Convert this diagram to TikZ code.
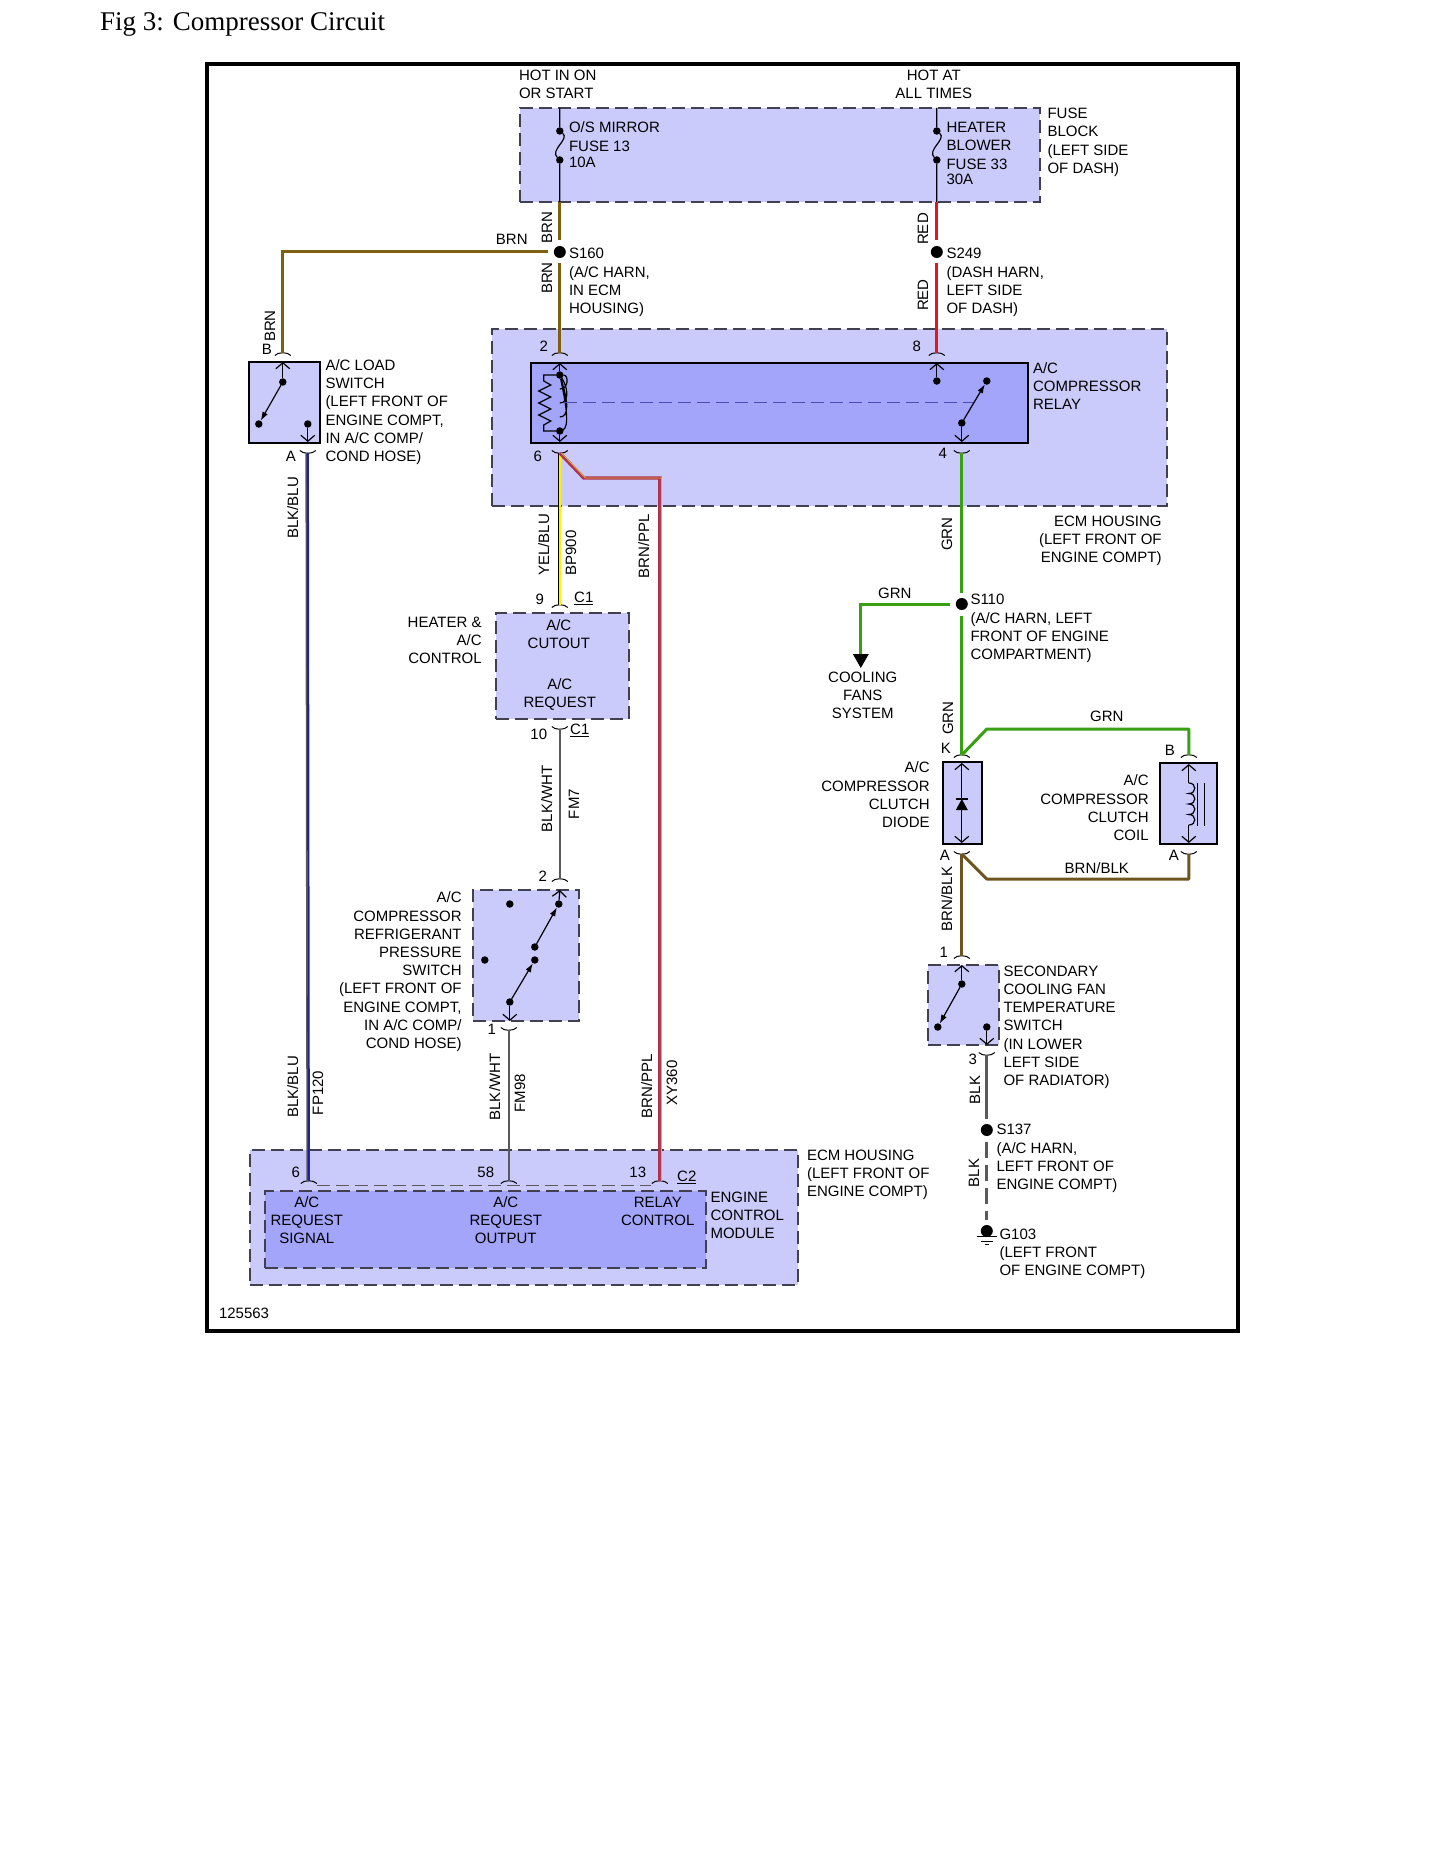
\documentclass[tikz,border=0pt]{standalone}
\usepackage{fontspec}
\setmainfont{Liberation Sans}
\newfontfamily\titlefont{Liberation Serif}
\usetikzlibrary{arrows.meta}
\definecolor{hsgfill}{HTML}{CBCBFB}
\definecolor{ecufill}{HTML}{A3A5FB}
\definecolor{dashgray}{HTML}{404050}
\definecolor{brnw}{HTML}{7F5F10}
\definecolor{brnblk}{HTML}{6E5520}
\definecolor{redw}{HTML}{E8141C}
\definecolor{grnw}{HTML}{38A012}
\definecolor{grayw}{HTML}{5A5A5A}
\definecolor{bluw}{HTML}{22229A}
\definecolor{ppl}{HTML}{B03050}
\definecolor{golds}{HTML}{D8B040}
\tikzset{
  housing/.style={draw=dashgray,fill=hsgfill,line width=1.6,dash pattern=on 13pt off 6pt,inner sep=0,outer sep=0},
  solidbox/.style={draw=black,fill=hsgfill,line width=1.5,inner sep=0,outer sep=0},
  innerbox/.style={solidbox,fill=ecufill},
  txtl/.style={anchor=base west,align=left,inner sep=0,yshift=-5.4pt},
  txtr/.style={anchor=base east,align=right,inner sep=0,yshift=-5.4pt},
  txtc/.style={anchor=base,align=center,inner sep=0,yshift=-5.4pt},
  rot/.style={rotate=90,anchor=center,inner sep=0,text height=10.7pt,text depth=0pt},
  splice/.style={circle,fill=black,inner sep=0,minimum size=12,outer sep=5.5},
  dotn/.style={circle,fill=black,inner sep=0,minimum size=7.5,outer sep=0},
  wirethin/.style={line width=1.2,black},
  pinarrow/.style={line width=1.2,black,-{Straight Barb[length=6pt,width=14pt]}},
  swarrow/.style={line width=1.2,black,-{Latex[length=9pt,width=6pt]}},
  brnwire/.style={line width=3,brnw},
  redwire/.style={line width=3,redw},
  grnwire/.style={line width=3,grnw},
  bbwire/.style={line width=3,brnblk},
  graywire/.style={line width=2.6,grayw},
  blkbluwire/.style={line width=2.2,bluw,preaction={draw,grayw,line width=1.6,transform canvas={xshift=-1.6pt}}},
  yelwire/.style={line width=2.2,yellow,preaction={draw,black,line width=1,transform canvas={xshift=-1.5pt}}},
  pplwire/.style={line width=3.4,ppl,postaction={draw,golds,line width=.9,transform canvas={xshift=1.6pt}}},
  archpin/.pic={\draw[line width=1] (-8,2.5) .. controls (-5,-1.2) and (5,-1.2) .. (8,2.5);},
  cuppin/.pic={\draw[line width=1] (-8,-2.5) .. controls (-5,1.2) and (5,1.2) .. (8,-2.5);},
  gndsym/.pic={\draw[line width=1] (-10,5) -- (10,5) (-6,10) -- (6,10) (-2,13) -- (2,13);},
}
\begin{document}
\begin{tikzpicture}[x=1pt,y=-1pt,font=\fontsize{15}{18.2}\selectfont]
  \useasboundingbox (0,0) rectangle (1445,1870);
  \node[anchor=west,inner sep=0,font=\titlefont\fontsize{27}{30}\selectfont] (figtitle) at (100,24) {Fig 3: Compressor Circuit};
  \node[draw=black,line width=4,minimum width=1031,minimum height=1267,inner sep=0] (frame) at (722.5,697.5) {};

  \begin{scope}[xshift=0.8pt]
  % boxes
  \node[housing,minimum width=520,minimum height=94] (fuseblock) at (779,155) {};
  \node[housing,minimum width=675,minimum height=177] (ecmtop) at (828.5,417.5) {};
  \node[innerbox,minimum width=497,minimum height=80] (relay) at (778.5,403) {};
  \node[solidbox,minimum width=71,minimum height=81] (loadsw) at (283.5,402.5) {};
  \node[housing,minimum width=133,minimum height=106] (hvac) at (561.5,666) {};
  \node[housing,minimum width=106,minimum height=131] (presssw) at (525,955.5) {};
  \node[solidbox,minimum width=39,minimum height=82] (diodebox) at (961.5,803) {};
  \draw[line width=2.4] (diodebox.north east) -- (diodebox.south east);
  \node[solidbox,minimum width=57,minimum height=81] (coilbox) at (1187.5,803.5) {};
  \node[housing,minimum width=71,minimum height=80] (tempsw) at (962.5,1005) {};
  \node[housing,minimum width=548,minimum height=135] (ecmlow) at (523,1217.5) {};
  \node[housing,fill=ecufill,minimum width=441,minimum height=77] (ecm) at (484.5,1229.5) {};

  % pins
  \coordinate (p2) at (559,353);
  \coordinate (p6) at (559,453);
  \coordinate (p8) at (936,353);
  \coordinate (p4) at (961,453);
  \coordinate (pb) at (282,353);
  \coordinate (pa) at (307,453);
  \coordinate (p9) at (559,605);
  \coordinate (p10) at (559,729);
  \coordinate (ps2) at (559,879);
  \coordinate (ps1) at (508,1030);
  \coordinate (pk) at (961,755);
  \coordinate (pda) at (961,854);
  \coordinate (pcb) at (1188,755);
  \coordinate (pca) at (1188,854);
  \coordinate (pt1) at (961,956);
  \coordinate (pt3) at (986,1055);
  \coordinate (e6) at (308,1181);
  \coordinate (e58) at (508,1181);
  \coordinate (e13) at (659,1181);
  \foreach \pn in {p2,p8,pb,p9,ps2,pk,pcb,pt1,e6,e58,e13} \pic at (\pn) {archpin};
  \foreach \pn in {p6,p4,pa,p10,ps1,pda,pca,pt3} \pic at (\pn) {cuppin};

  % splices
  \node[splice] (s160) at (559,252) {};
  \node[splice] (s249) at (936,252) {};
  \node[splice] (s110) at (961,604) {};
  \node[splice] (s137) at (986,1130) {};
  \node[splice] (g103) at (986,1231) {};
  \pic at (g103) {gndsym};

  % fuses
  \node[dotn] (f13a) at (559,131) {};
  \node[dotn] (f13b) at (559,160) {};
  \node[dotn] (f33a) at (936,131) {};
  \node[dotn] (f33b) at (936,160) {};
  \draw[wirethin] (f13a |- fuseblock.north) -- (f13a) .. controls (569,139) and (549,150) .. (f13b) -- (f13b |- fuseblock.south);
  \draw[wirethin] (f33a |- fuseblock.north) -- (f33a) .. controls (946,139) and (926,150) .. (f33b) -- (f33b |- fuseblock.south);

  % wires
  \draw[brnwire] (f13b |- fuseblock.south) -- (s160);
  \draw[brnwire] (s160) -- (p2);
  \coordinate (brnbend) at (282,252);
  \draw[brnwire] (s160) -- (brnbend) -- (pb);
  \draw[redwire] (f33b |- fuseblock.south) -- (s249);
  \draw[redwire] (s249) -- (p8);
  \draw[grnwire] (p4) -- (s110);
  \draw[grnwire] (s110) -- (pk);
  \coordinate (grnleft) at (860,604);
  \coordinate (coolarrow) at (860,656);
  \draw[grnwire] (s110) -- (grnleft) -- (coolarrow);
  \coordinate (cooltip) at (860,668);
  \fill[black] (852,654) -- (868,654) -- (cooltip) -- cycle;
  \coordinate (grnb1) at (986,729);
  \draw[grnwire,line join=round] (pk) -- (grnb1) -| (pcb);
  \coordinate (bbb1) at (986,879);
  \draw[bbwire,line join=round] (pda) -- (bbb1) -| (pca);
  \draw[bbwire] (pda) -- (pt1);
  \draw[yelwire] (p6) -- (p9);
  \coordinate (ppl1) at (583,478);
  \coordinate (ppl2) at (659,478);
  \draw[pplwire] (p6) -- (ppl1) -- (ppl2) -- (e13);
  \draw[blkbluwire] (pa) -- (e6);
  \draw[graywire] (p10) -- (ps2);
  \draw[graywire] (ps1) -- (e58);
  \draw[graywire,line width=3] (pt3) -- (s137);
  \draw[graywire,line width=3,dash pattern=on 16pt off 7pt] (s137) -- (g103);
  \draw[grayw,line width=1,dash pattern=on 13pt off 6pt] (316,1185) -- (650,1185);

  % relay
  \coordinate (r2tip) at (559,363);
  \coordinate (r6tip) at (559,442);
  \node[dotn] (r2) at (559,375) {};
  \node[dotn] (r6) at (559,431) {};
  \draw[pinarrow] (r2) -- (r2tip);
  \draw[pinarrow] (r6) -- (r6tip);
  \draw[wirethin] (r2) \foreach \yy in {375,389,403,417} {
      .. controls (568,\yy) and (568,\yy+14) .. (559,\yy+14)};
  \draw[wirethin] (r2) -- (543,375) -- (543,381) -- (550,385) -- (538,391) -- (550,397) -- (538,403)
     -- (550,409) -- (538,415) -- (550,421) -- (543,425) -- (543,431) -- (r6);
  \draw[color=blue!40!gray,line width=1,dash pattern=on 13pt off 6pt] (563,402) -- (972,402);
  \node[dotn] (r8) at (936,381) {};
  \coordinate (r8tip) at (936,363);
  \draw[pinarrow] (r8) -- (r8tip);
  \node[dotn] (r4) at (961,423) {};
  \node[dotn] (rsw) at (986,381) {};
  \coordinate (r4tip) at (961,442);
  \draw[pinarrow] (r4) -- (r4tip);
  \draw[swarrow] (r4) -- (rsw);

  % load switch
  \node[dotn] (ls1) at (282,382) {};
  \node[dotn] (ls2) at (258,424) {};
  \node[dotn] (ls3) at (307,424) {};
  \coordinate (lsb) at (282,362);
  \coordinate (lsa) at (307,442);
  \draw[pinarrow] (ls1) -- (lsb);
  \draw[pinarrow] (ls3) -- (lsa);
  \draw[swarrow] (ls1) -- (ls2);

  % pressure switch
  \node[dotn] (ps4) at (558,904) {};
  \node[dotn] (ps5) at (509,904) {};
  \node[dotn] (ps6) at (484,960) {};
  \node[dotn] (ps7) at (534,947) {};
  \node[dotn] (ps8) at (534,960) {};
  \node[dotn] (ps9) at (509,1002) {};
  \coordinate (pstop) at (559,890);
  \coordinate (psbot) at (509,1021);
  \draw[pinarrow] (ps4) -- (pstop);
  \draw[pinarrow] (ps9) -- (psbot);
  \draw[swarrow] (ps9) -- (ps8);
  \draw[swarrow] (ps7) -- (ps4);

  % diode and coil
  \coordinate (dtop) at (961,763);
  \coordinate (dbot) at (961,843);
  \draw[line width=1.2,{Straight Barb[length=6pt,width=14pt]}-{Straight Barb[length=6pt,width=14pt]}] (dtop) -- (dbot);
  \fill[black] (955,810) -- (967,810) -- (961,799) -- cycle;
  \draw[line width=1.2] (955,799) -- (967,799);
  \coordinate (ctop) at (1188,764);
  \coordinate (cbot) at (1188,843);
  \coordinate (ccoila) at (1188,783);
  \coordinate (ccoilb) at (1188,825);
  \draw[pinarrow] (ccoila) -- (ctop);
  \draw[pinarrow] (ccoilb) -- (cbot);
  \draw[wirethin] (ccoila) \foreach \yy in {783,793.5,804,814.5} {
      .. controls (1196,\yy) and (1196,\yy+10.5) .. (1188,\yy+10.5)};
  \draw[line width=.8] (1197,783) -- (1197,826) (1204,783) -- (1204,826);

  % temperature switch
  \node[dotn] (ts1) at (961,984) {};
  \node[dotn] (ts2) at (937,1027) {};
  \node[dotn] (ts3) at (986,1027) {};
  \coordinate (tstop) at (961,965);
  \coordinate (tsbot) at (986,1045);
  \draw[pinarrow] (ts1) -- (tstop);
  \draw[pinarrow] (ts3) -- (tsbot);
  \draw[swarrow] (ts1) -- (ts2);

  % labels
  \node[txtl] (hot1) at (518,93) {HOT IN ON\\OR START};
  \node[txtc] (hot2) at (933,93) {HOT AT\\ALL TIMES};
  \node[txtl] (fuse13) at (568,162) {O/S MIRROR\\FUSE 13\\[-2pt]10A};
  \node[txtl] (fuse33) at (945.5,179) {HEATER\\BLOWER\\FUSE 33\\[-3pt]30A};
  \node[txtl] (fbtxt) at (1046.5,168) {FUSE\\BLOCK\\(LEFT SIDE\\OF DASH)};
  \node[txtc] (brnh) at (511,239) {BRN};
  \node[rot] (brn1) at (546,228) {BRN};
  \node[rot] (brn2) at (546,278) {BRN};
  \node[rot] (brn3) at (269,326) {BRN};
  \node[rot] (red1) at (922,229) {RED};
  \node[rot] (red2) at (922,295) {RED};
  \node[txtl] (s160txt) at (568,308) {S160\\(A/C HARN,\\IN ECM\\HOUSING)};
  \node[txtl] (s249txt) at (945.5,308) {S249\\(DASH HARN,\\LEFT SIDE\\OF DASH)};
  \node[txtc] (n2) at (543,346) {2};
  \node[txtc] (n6) at (537,456) {6};
  \node[txtc] (n8) at (916,346) {8};
  \node[txtc] (n4) at (942,453) {4};
  \node[txtc] (nb) at (266,349) {B};
  \node[txtc] (na) at (290,456) {A};
  \node[txtl] (relaytxt) at (1032,404) {A/C\\COMPRESSOR\\RELAY};
  \node[txtl] (lstxt) at (324.5,456) {A/C LOAD\\SWITCH\\(LEFT FRONT OF\\ENGINE COMPT,\\IN A/C COMP/\\COND HOSE)};
  \node[txtr] (ecmtxt) at (1161,557) {ECM HOUSING\\(LEFT FRONT OF\hspace{3pt}\\ENGINE COMPT)};
  \node[rot] (blkblu1) at (292,508) {BLK/BLU};
  \node[rot] (yelblu) at (543,545) {YEL/BLU};
  \node[rot] (bp900) at (570,553) {BP900};
  \node[rot] (brnppl1) at (643,546) {BRN/PPL};
  \node[rot] (grn1) at (946,534) {GRN};
  \node[txtc] (grn2) at (894,593) {GRN};
  \node[txtl] (s110txt) at (969.5,654) {S110\\(A/C HARN, LEFT\\FRONT OF ENGINE\\COMPARTMENT)};
  \node[txtc] (cooltxt) at (862,713) {COOLING\\FANS\\SYSTEM};
  \node[rot] (grn3) at (947,718) {GRN};
  \node[txtc] (grn4) at (1106,716) {GRN};
  \node[txtc] (nine) at (539,599) {9};
  \node[txtc] (c1a) at (583,597) {\underline{C1}};
  \node[txtc] (ten) at (538,734) {10};
  \node[txtc] (c1b) at (579,729) {\underline{C1}};
  \node[txtr] (hvactxt) at (481,658) {HEATER \&\\A/C\\CONTROL\hspace{-5pt}};
  \node[txtc] (cutout) at (558,643) {A/C\\CUTOUT};
  \node[txtc] (request) at (559,702) {A/C\\REQUEST};
  \node[rot] (blkwht1) at (546,799) {BLK/WHT};
  \node[rot] (fm7) at (573,804) {FM7};
  \node[txtc] (nk) at (945,748) {K};
  \node[txtc] (nda) at (944,855) {A};
  \node[txtc] (ncb) at (1169,750) {B};
  \node[txtc] (nca) at (1173,855) {A};
  \node[txtr] (diodetxt) at (929,822) {A/C\\COMPRESSOR\\CLUTCH\\DIODE\hspace{-5pt}};
  \node[txtr] (coiltxt) at (1148,835) {A/C\\COMPRESSOR\\CLUTCH\\COIL\hspace{-4pt}};
  \node[txtc] (bbtxt) at (1096,868) {BRN/BLK};
  \node[rot] (bbrot) at (946,899) {BRN/BLK};
  \node[txtc] (n1t) at (943,952) {1};
  \node[txtc] (n3t) at (972,1059) {3};
  \node[txtl] (tstxt) at (1002.5,1080) {SECONDARY\\COOLING FAN\\TEMPERATURE\\SWITCH\\(IN LOWER\\LEFT SIDE\\OF RADIATOR)};
  \node[rot] (blk1) at (974,1090) {BLK};
  \node[rot] (blk2) at (973,1173) {BLK};
  \node[txtl] (s137txt) at (995.5,1184) {S137\\(A/C HARN,\\LEFT FRONT OF\\ENGINE COMPT)};
  \node[txtl] (g103txt) at (998.5,1270) {G103\\(LEFT FRONT\\OF ENGINE COMPT)};
  \node[txtc] (n2s) at (542,876) {2};
  \node[txtc] (n1s) at (491,1029) {1};
  \node[txtr] (pstxt) at (461,1043) {A/C\\COMPRESSOR\\REFRIGERANT\\PRESSURE\\SWITCH\hspace{-4pt}\\(LEFT FRONT OF\\ENGINE COMPT,\\IN A/C COMP/\\COND HOSE)\hspace{-4pt}};
  \node[rot] (blkblu2) at (292,1087) {BLK/BLU};
  \node[rot] (fp120) at (317,1093) {FP120};
  \node[rot] (blkwht2) at (494,1087) {BLK/WHT};
  \node[rot] (fm98) at (519,1093) {FM98};
  \node[rot] (brnppl2) at (646,1086) {BRN/PPL};
  \node[rot] (xy360) at (671,1083) {XY360};
  \node[txtc] (n6e) at (295,1172) {6};
  \node[txtc] (n58) at (485,1172) {58};
  \node[txtc] (n13) at (637,1172) {13};
  \node[txtc] (c2) at (686,1176) {\underline{C2}};
  \node[txtl] (ecmlowtxt) at (806,1191) {ECM HOUSING\\(LEFT FRONT OF\\ENGINE COMPT)};
  \node[txtc] (sigtxt) at (306,1238) {A/C\\REQUEST\\SIGNAL};
  \node[txtc] (outtxt) at (505,1238) {A/C\\REQUEST\\OUTPUT};
  \node[txtc] (reltxt) at (657,1220) {RELAY\\CONTROL};
  \node[txtl] (ecmname) at (709.5,1233) {ENGINE\\CONTROL\\MODULE};
  \node[txtl] (partno) at (218,1313) {125563};
  \end{scope}
\end{tikzpicture}
\end{document}
